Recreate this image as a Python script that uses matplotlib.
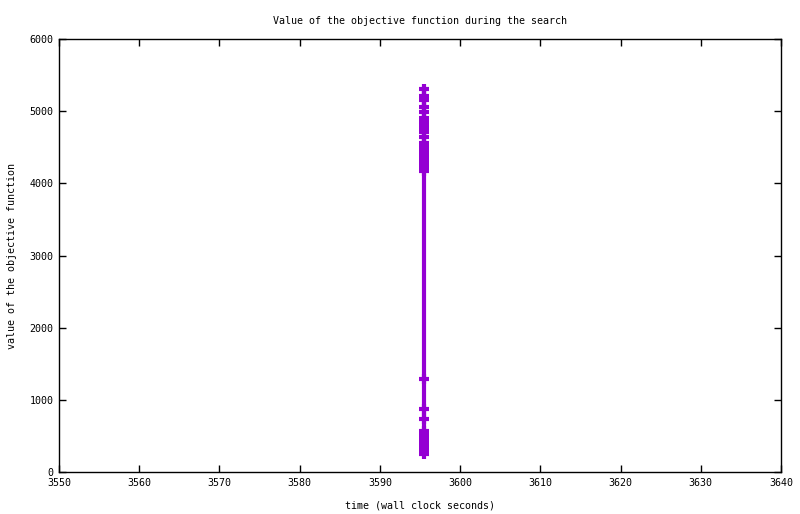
import matplotlib
matplotlib.use('Agg')
import matplotlib.pyplot as plt

# objective function values found during the search
times = [3595.5] * 34
values = [250, 290, 330, 370, 410, 450, 490, 530, 570,
          739, 877, 1289,
          4170, 4210, 4250, 4290, 4330, 4380, 4430, 4470, 4520, 4560,
          4646, 4711, 4750, 4781, 4822, 4860, 4905, 4993, 5062, 5155,
          5214, 5311]

xticks = list(range(3550, 3641, 10))
yticks = list(range(0, 6001, 1000))

plt.rcParams['font.family'] = 'DejaVu Sans Mono'
plt.rcParams['font.size'] = 7.2

fig = plt.figure(figsize=(8, 5.14), dpi=100)
ax = fig.add_axes([0.07375, 0.0817, 0.9025, 0.8424])

ax.plot(times, values, color='#9400D3', linewidth=3,
        marker='+', markersize=7.5, markeredgewidth=3)

ax.set_xlim(3550, 3640)
ax.set_ylim(0, 6000)
ax.set_xticks(xticks)
ax.set_yticks(yticks)
ax.tick_params(direction='in', top=True, right=True, length=5, width=1, pad=4)
for s in ax.spines.values():
    s.set_linewidth(1)

ax.set_title('Value of the objective function during the search', fontsize=7.2, pad=11)
ax.set_xlabel('time (wall clock seconds)', fontsize=7.2, labelpad=9)
ax.set_ylabel('value of the objective function', fontsize=7.2, labelpad=9)

plt.savefig('out.png', dpi=100)
